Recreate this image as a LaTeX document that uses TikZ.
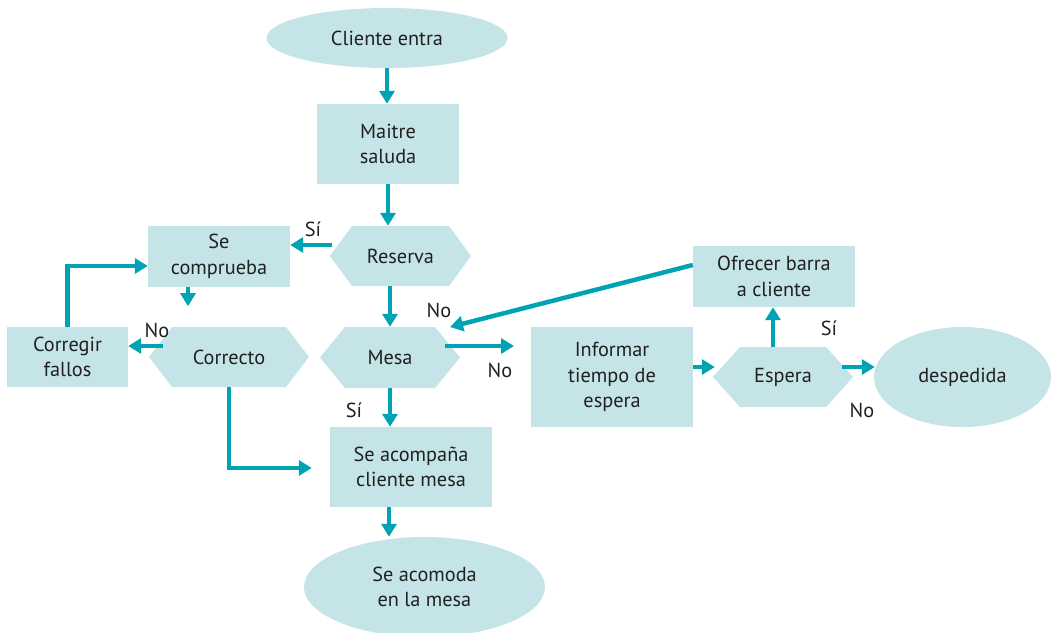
\documentclass[tikz,border=0pt]{standalone}
\usepackage{fontspec}
\setmainfont{PT Sans}
\usetikzlibrary{arrows.meta,shapes.geometric}
\definecolor{nodefill}{RGB}{197,228,232}
\definecolor{flowc}{RGB}{0,163,180}
\definecolor{ink}{RGB}{32,32,32}
\begin{document}
\begin{tikzpicture}[x=1pt,y=-1pt,
  every node/.style={text=ink, font=\fontsize{20.3}{25.7}\selectfont, inner sep=0pt, align=center},
  box/.style={rectangle, fill=nodefill},
  term/.style={ellipse, fill=nodefill},
  hexa/.style={rectangle,
    path picture={\fill[nodefill]
      ([xshift=#1]path picture bounding box.north west) --
      ([xshift=-#1]path picture bounding box.north east) --
      (path picture bounding box.east) --
      ([xshift=-#1]path picture bounding box.south east) --
      ([xshift=#1]path picture bounding box.south west) --
      (path picture bounding box.west) -- cycle;}},
  hexa/.default=24pt,
  flow/.style={draw=flowc, line width=4.5pt, -{Triangle[length=13pt,width=15pt]}},
  lbl/.style={}]
\useasboundingbox (0,0) rectangle (1052,632);

% process nodes
\node[term, minimum width=241pt, minimum height=60pt] (cliente) at (387,38) {Cliente entra};
\node[box, minimum width=142pt, minimum height=80pt] (maitre) at (388,144) {Maitre\\saluda};
\node[hexa=22pt, minimum width=141pt, minimum height=60pt] (reserva) at (400.5,256) {Reserva};
\node[box, minimum width=142pt, minimum height=61pt] (comprueba) at (219,256.5) {Se\\comprueba};
\node[hexa=23pt, minimum width=160pt, minimum height=60pt] (correcto) at (229,357) {Correcto};
\node[box, minimum width=121pt, minimum height=60pt] (corregir) at (67.5,357) {Corregir\\fallos};
\node[hexa=25pt, minimum width=140pt, minimum height=61pt] (mesa) at (390,357.5) {Mesa};
\node[box, minimum width=162pt, minimum height=80pt] (acompana) at (411,467) {Se acompaña\\cliente mesa};
\node[term, minimum width=241pt, minimum height=100pt] (acomoda) at (424.5,587) {Se acomoda\\en la mesa};
\node[box, minimum width=162pt, minimum height=100pt] (informar) at (612,377) {Informar\\tiempo de\\espera};
\node[hexa=27pt, minimum width=140pt, minimum height=60pt] (espera) at (783,377) {Espera};
\node[box, minimum width=162pt, minimum height=61pt] (ofrecer) at (774,276.5) {Ofrecer barra\\a cliente};
\node[term, minimum width=177pt, minimum height=100pt] (despedida) at (962.5,377) {despedida};

% free ends of connectors
\coordinate (cpend) at ([xshift=-31pt,yshift=-19pt]comprueba.south);
\coordinate (mesaout) at (514,346);
\coordinate (mesain) at (450,327);
\coordinate (acompin) at ([xshift=-18pt,yshift=-1pt]acompana.west);

% connectors
\draw[flow] (cliente.south) -- (cliente.south |- maitre.north);
\draw[flow] (maitre.south) -- (maitre.south |- reserva.north);
\draw[flow] ([xshift=2pt,yshift=11pt]reserva.west) -- ([yshift=11pt]reserva.west -| comprueba.east);
\draw[flow] ([xshift=-31pt]comprueba.south) -- (cpend);
\draw[flow] ([xshift=14pt,yshift=11pt]correcto.west) -- ([yshift=11pt]correcto.west -| corregir.east);
\draw[flow] (corregir.north) |- ([yshift=-9.5pt]comprueba.west);
\draw[flow] (mesa.north |- reserva.south) -- (mesa.north);
\draw[flow] ([xshift=-15pt,yshift=11.5pt]mesa.east) -- (mesaout);
\draw[flow] ([yshift=11.5pt]ofrecer.west) -- (mesain);
\draw[flow] (mesa.south) -- (mesa.south |- acompana.north);
\draw[flow] (correcto.south) |- (acompin);
\draw[flow] ([xshift=-22pt]acompana.south) -- ([xshift=-22pt]acompana.south |- acomoda.north);
\draw[flow] ([yshift=10pt]informar.east) -- ([xshift=2pt,yshift=10pt]espera.west);
\draw[flow] ([xshift=-10pt]espera.north) -- ([xshift=-10pt]espera.north |- ofrecer.south);
\draw[flow] ([xshift=-11pt,yshift=10pt]espera.east) -- ([xshift=1pt,yshift=10pt]despedida.west);

% branch labels
\node[lbl] (sires) at (313,229) {Sí};
\node[lbl] (nocor) at (157,330) {No};
\node[lbl] (nobar) at (439,310) {No};
\node[lbl] (nomesa) at (500,370) {No};
\node[lbl] (simesa) at (354,410) {Sí};
\node[lbl] (siesp) at (829,328) {Sí};
\node[lbl] (noesp) at (862,410) {No};
\end{tikzpicture}
\end{document}
